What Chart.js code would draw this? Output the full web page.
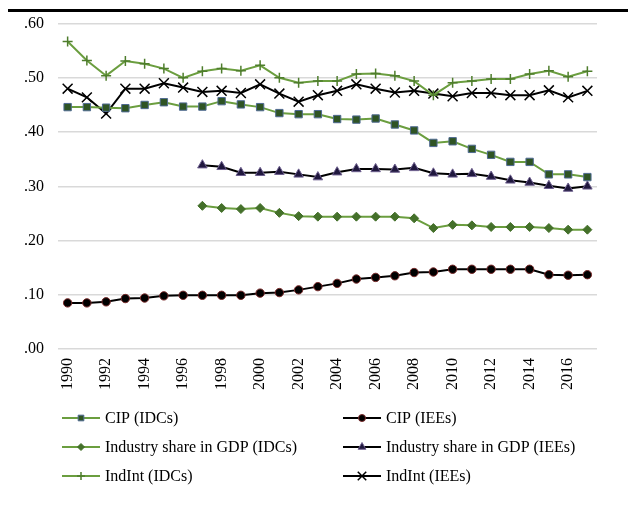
<!DOCTYPE html>
<html>
<head>
<meta charset="utf-8">
<script src="https://cdn.jsdelivr.net/npm/chart.js@4.4.1/dist/chart.umd.min.js"></script>
<style>
  body { margin: 0; background: #fff; }
  #wrap { position: relative; width: 628px; height: 507px; }
</style>
</head>
<body>
<div id="wrap"><canvas id="chart-1" width="628" height="507"></canvas></div>
<script>
  // Données du graphique
  const years = ['1990','1991','1992','1993','1994','1995','1996','1997','1998','1999',
    '2000','2001','2002','2003','2004','2005','2006','2007','2008','2009',
    '2010','2011','2012','2013','2014','2015','2016','2017'];

  const cipIDCs = [.446,.446,.445,.444,.450,.455,.447,.447,.457,.451,.446,.435,.433,.433,
    .424,.423,.425,.414,.403,.380,.383,.369,.358,.345,.345,.322,.322,.317];
  const cipIEEs = [.085,.085,.087,.093,.094,.098,.099,.099,.099,.099,.103,.104,.109,.115,
    .121,.129,.132,.135,.141,.142,.147,.147,.147,.147,.147,.137,.136,.137];
  const shareIDCs = [null,null,null,null,null,null,null,.264,.260,.258,.260,.251,.245,.244,
    .244,.244,.244,.244,.241,.223,.229,.228,.225,.225,.225,.223,.220,.220];
  const shareIEEs = [null,null,null,null,null,null,null,.339,.336,.325,.325,.327,.322,.317,
    .326,.332,.332,.331,.334,.324,.322,.323,.318,.311,.307,.301,.296,.300];
  const indIntIDCs = [.567,.532,.504,.531,.526,.517,.500,.512,.517,.513,.523,.500,.491,.494,
    .494,.507,.508,.504,.494,.468,.491,.494,.498,.498,.507,.513,.502,.512];
  const indIntIEEs = [.480,.464,.434,.480,.480,.490,.482,.474,.476,.472,.488,.471,.456,.468,
    .476,.488,.480,.473,.476,.471,.466,.472,.472,.468,.468,.477,.464,.476];

  const yTicks = [0, .1, .2, .3, .4, .5, .6];

  const green = '#6b9e3f';
  const font = 'Liberation Serif, Times New Roman, serif';

  // légende en deux colonnes, dessinée sur le canvas
  const legendTwoCols = {
    id: 'legendTwoCols',
    afterDraw(chart) {
      const ctx = chart.ctx;
      ctx.save();
      // trait noir en haut
      ctx.fillStyle = '#000';
      ctx.fillRect(8, 9, 620, 3);

      const cols = [62, 343];
      const rows = [418, 447, 476];
      chart.data.datasets.forEach((ds, i) => {
        const x = cols[i % 2];
        const y = rows[Math.floor(i / 2)];
        ctx.strokeStyle = ds.borderColor;
        ctx.lineWidth = 2;
        ctx.beginPath();
        ctx.moveTo(x, y);
        ctx.lineTo(x + 38, y);
        ctx.stroke();
        ctx.fillStyle = ds.pointBackgroundColor;
        ctx.strokeStyle = ds.pointBorderColor;
        ctx.lineWidth = ds.pointBorderWidth;
        Chart.helpers.drawPoint(ctx, {
          pointStyle: ds.pointStyle,
          radius: ds.legendRadius,
          borderWidth: ds.pointBorderWidth,
          rotation: 0
        }, x + 19, y);
        ctx.fillStyle = '#000';
        ctx.font = '16px ' + font;
        ctx.textBaseline = 'middle';
        ctx.fillText(ds.label, x + 43, y + 1);
      });
      ctx.restore();
    }
  };

  const ctx = document.getElementById('chart-1');
  new Chart(ctx, {
    type: 'line',
    data: {
      labels: years,
      datasets: [
        {
          label: 'CIP (IDCs)',
          data: cipIDCs,
          borderColor: green,
          borderWidth: 2,
          pointStyle: 'rect',
          pointRadius: 5.2,
          legendRadius: 4,
          pointBackgroundColor: '#2f5424',
          pointBorderColor: '#4f6a92',
          pointBorderWidth: 1
        },
        {
          label: 'CIP (IEEs)',
          data: cipIEEs,
          borderColor: '#000',
          borderWidth: 2,
          pointStyle: 'circle',
          pointRadius: 4.2,
          legendRadius: 3.5,
          pointBackgroundColor: '#000',
          pointBorderColor: '#7a2a2a',
          pointBorderWidth: 1
        },
        {
          label: 'Industry share in GDP (IDCs)',
          data: shareIDCs,
          borderColor: green,
          borderWidth: 2,
          pointStyle: 'rectRot',
          pointRadius: 4.5,
          legendRadius: 3.5,
          pointBackgroundColor: '#44702a',
          pointBorderColor: '#44702a',
          pointBorderWidth: 1
        },
        {
          label: 'Industry share in GDP (IEEs)',
          data: shareIEEs,
          borderColor: '#000',
          borderWidth: 2,
          pointStyle: 'triangle',
          pointRadius: 5.5,
          legendRadius: 4.5,
          pointBackgroundColor: '#20183e',
          pointBorderColor: '#6d5f8e',
          pointBorderWidth: 1
        },
        {
          label: 'IndInt (IDCs)',
          data: indIntIDCs,
          borderColor: green,
          borderWidth: 2,
          pointStyle: 'cross',
          pointRadius: 5,
          legendRadius: 4,
          pointBackgroundColor: green,
          pointBorderColor: '#4e7d2c',
          pointBorderWidth: 1.5
        },
        {
          label: 'IndInt (IEEs)',
          data: indIntIEEs,
          borderColor: '#000',
          borderWidth: 2,
          pointStyle: 'crossRot',
          pointRadius: 7,
          legendRadius: 6,
          pointBackgroundColor: '#000',
          pointBorderColor: '#000',
          pointBorderWidth: 1.5
        }
      ]
    },
    options: {
      responsive: false,
      animation: false,
      spanGaps: false,
      layout: { padding: { top: 21, right: 31, bottom: 116, left: 0 } },
      plugins: {
        legend: { display: false },
        tooltip: { enabled: false }
      },
      elements: { line: { tension: 0 } },
      scales: {
        x: {
          offset: true,
          grid: { display: false, drawTicks: false },
          border: { display: false },
          ticks: {
            autoSkip: false,
            maxRotation: 90,
            minRotation: 90,
            padding: 9,
            color: '#000',
            font: { family: font, size: 16 },
            callback: function (v, i) { return i % 2 === 0 ? years[i] : ''; }
          },
          afterFit: function (s) { s.height = 42; }
        },
        y: {
          min: yTicks[0],
          max: yTicks[yTicks.length - 1],
          grid: { color: '#d9d9d9', lineWidth: 1.5, drawTicks: false },
          border: { display: false },
          ticks: {
            stepSize: 0.1,
            padding: 14,
            color: '#000',
            font: { family: font, size: 16 },
            callback: function (v) { return v.toFixed(2).replace(/^0/, ''); }
          },
          afterFit: function (s) { s.width = 58; }
        }
      }
    },
    plugins: [legendTwoCols]
  });
</script>
</body>
</html>
